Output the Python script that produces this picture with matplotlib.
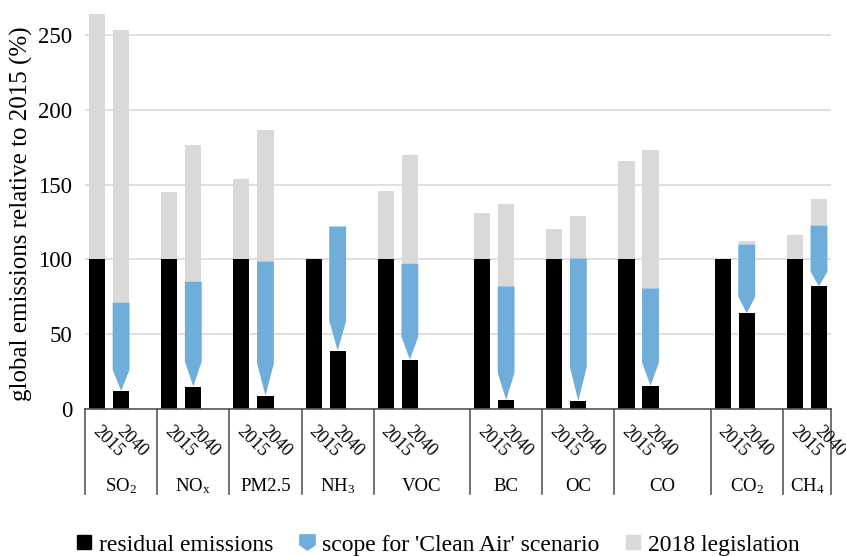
import numpy as np
import matplotlib
matplotlib.use("Agg")
import matplotlib.pyplot as plt
import matplotlib.transforms as mtransforms
from matplotlib.lines import Line2D

plt.rcParams["font.family"] = ["Liberation Serif", "DejaVu Serif"]
plt.rcParams["mathtext.fontset"] = "custom"
plt.rcParams["mathtext.rm"] = "Liberation Serif"
plt.rcParams["mathtext.it"] = "Liberation Serif:italic"

# data (% of 2015 emissions)
pollutants = [r"SO$_2$", r"NO$_\mathrm{x}$", "PM2.5", r"NH$_3$", "VOC",
              "BC", "OC", "CO", r"CO$_2$", r"CH$_4$"]
years = ["2015", "2040"]
residual_2015 = [100, 100, 100, 100, 100, 100, 100, 100, 100, 100]
total_2015 = [264, 145, 154, 100, 146, 131, 120, 166, 100, 116]
residual_2040 = [12, 15, 9, 39, 33, 6, 5.3, 15.5, 64, 82]
clean_air_top_2040 = [71, 85, 98.5, 122, 97, 82, 100.5, 80.5, 110, 122.5]
total_2040 = [253, 176.5, 186.5, 122, 170, 137, 129, 173, 112, 140.5]

# number of category slots per pollutant (Excel layout with blank slots)
slots = [3, 3, 3, 3, 4, 3, 3, 4, 3, 2]

BLACK = "#000000"
BLUE = "#6fadda"
GREY = "#d9d9d9"
AXIS = "#595959"

starts = np.concatenate([[0], np.cumsum(slots)[:-1]])
x15 = starts
x40 = starts + 1
edges = np.concatenate([[0], np.cumsum(slots)]) - 0.5

fig = plt.figure(figsize=(8.46, 5.56), dpi=100)
ax = fig.add_axes([85 / 846, 147 / 556, 746 / 846, 398 / 556])

bw = 0.67
res15 = np.array(residual_2015, float)
tot15 = np.array(total_2015, float)
res40 = np.array(residual_2040, float)
top40 = np.array(clean_air_top_2040, float)
tot40 = np.array(total_2040, float)

ax.bar(x15, res15, width=bw, color=BLACK, zorder=2)
ax.bar(x15, tot15 - res15, bottom=res15, width=bw, color=GREY, zorder=2)
ax.bar(x40, res40, width=bw, color=BLACK, zorder=2)
ax.bar(x40, tot40 - top40, bottom=top40, width=bw, color=GREY, zorder=2)

# 'Clean Air' scope drawn as downward arrows ending on the residual bar
hw = 0.35
for c, r, s in zip(x40, res40, top40):
    t = 0.24 * (s - r)
    ax.fill([c - hw, c + hw, c + hw, c, c - hw],
            [s, s, r + t, r, r + t], color=BLUE, lw=0, zorder=3)

ax.set_xlim(-0.5, sum(slots) - 0.5)
ax.set_ylim(0, 266)
ax.set_yticks(np.arange(0, 251, 50))
ax.tick_params(axis="y", length=0, pad=9, labelsize=16.5)
ax.set_xticks([])
ax.yaxis.grid(True, color=GREY, lw=1.2)
ax.set_axisbelow(True)
for side in ["left", "right", "top"]:
    ax.spines[side].set_visible(False)
ax.spines["bottom"].set_color(AXIS)
ax.spines["bottom"].set_linewidth(1.2)

ax.set_ylabel("global emissions relative to 2015 (%)", fontsize=18)
ax.yaxis.set_label_coords(-0.07, 0.49)

# two-level category axis
trans = mtransforms.blended_transform_factory(ax.transData, ax.transAxes)
for e in edges:
    ax.plot([e, e], [0, -0.2136], color=AXIS, lw=1.2, transform=trans,
            clip_on=False)
for a, b in zip(x15, x40):
    for xx, yr in zip([a, b], years):
        ax.text(xx - 0.33, -0.035, yr, transform=trans, rotation=-45,
                ha="left", va="top", fontsize=13)
for i, name in enumerate(pollutants):
    mid = (edges[i] + edges[i + 1]) / 2
    ax.text(mid, -0.206, name, transform=trans, ha="center",
            va="baseline", fontsize=13.5)

arrow_marker = [(-1, 1), (1, 1), (1, -0.3), (0, -1), (-1, -0.3), (-1, 1)]
handles = [
    Line2D([], [], ls="none", marker="s", color=BLACK, markersize=10),
    Line2D([], [], ls="none", marker=arrow_marker, color=BLUE, markersize=11),
    Line2D([], [], ls="none", marker="s", color=GREY, markersize=10),
]
labels = ["residual emissions", "scope for 'Clean Air' scenario",
          "2018 legislation"]
fig.legend(handles, labels, loc="center", bbox_to_anchor=(0.518, 0.02),
           ncol=3, frameon=False, fontsize=17, handlelength=0.6,
           handletextpad=0.35, columnspacing=1.1)

fig.savefig("out.png", dpi=100)
